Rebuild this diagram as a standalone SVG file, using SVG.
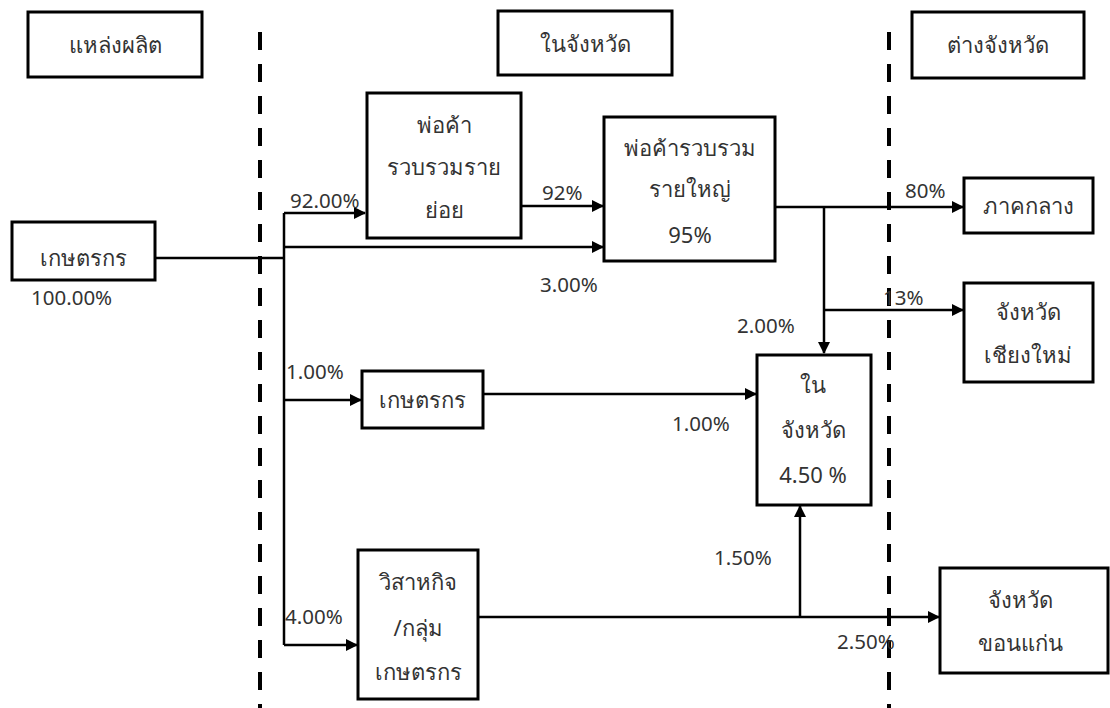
<svg xmlns="http://www.w3.org/2000/svg" width="1110" height="708" viewBox="0 0 1110 708">
<defs>
<marker id="ah" markerWidth="12" markerHeight="12" refX="11" refY="6" orient="auto" markerUnits="userSpaceOnUse">
<path d="M0,0 L12,6 L0,12 Z" fill="#000"/>
</marker>
<style>
.box{fill:#fff;stroke:#000;stroke-width:3}
.t{font-family:"Noto Sans","DejaVu Sans",sans-serif;font-size:22px;fill:#333;text-anchor:middle}
.n{font-family:"Noto Sans","DejaVu Sans",sans-serif;font-size:22px;fill:#333;text-anchor:middle}
.l{font-family:"Noto Sans","DejaVu Sans",sans-serif;font-size:20.5px;fill:#333}
.c{fill:none;stroke:#000;stroke-width:2.5}
.a{fill:none;stroke:#000;stroke-width:2.5;marker-end:url(#ah)}
.d{stroke:#000;stroke-width:4;stroke-dasharray:18 14}
</style>
</defs>
<rect width="1110" height="708" fill="#fff"/>
<g id="dividers">
<line class="d" x1="260" y1="32" x2="260" y2="708"/>
<line class="d" x1="889" y1="32" x2="889" y2="708"/>
</g>
<g id="connectors">
<polyline class="c" points="155,258 284,258"/>
<polyline class="c" points="284,213 284,645"/>
<polyline class="a" points="284,213 365,213"/>
<polyline class="a" points="284,247 603,247"/>
<polyline class="a" points="521,206 603,206"/>
<polyline class="a" points="284,400 361,400"/>
<polyline class="a" points="284,645 357,645"/>
<polyline class="a" points="483,394 756,394"/>
<polyline class="a" points="775,207 963,207"/>
<polyline class="a" points="824,207 824,353"/>
<polyline class="a" points="824,310 963,310"/>
<polyline class="c" points="478,617 800,617"/>
<polyline class="a" points="800,617 939,617"/>
<polyline class="a" points="800,617 800,506"/>
</g>
<g id="n-source"><rect class="box" x="28" y="12" width="174" height="65"/><text class="t" x="115" y="53">แหล่งผลิต</text></g>
<g id="n-inprov-head"><rect class="box" x="498" y="11" width="174" height="64"/><text class="t" x="585" y="52">ในจังหวัด</text></g>
<g id="n-outprov-head"><rect class="box" x="912" y="12" width="172" height="66"/><text class="t" x="998" y="53">ต่างจังหวัด</text></g>
<g id="n-farmer"><rect class="box" x="12" y="222" width="143" height="58"/><text class="t" x="83" y="266">เกษตรกร</text></g>
<g id="n-small"><rect class="box" x="367" y="93" width="154" height="145"/><text class="t" x="444" y="133">พ่อค้า</text><text class="t" x="444" y="175">รวบรวมราย</text><text class="t" x="444" y="218">ย่อย</text></g>
<g id="n-big"><rect class="box" x="604" y="117" width="171" height="144"/><text class="t" x="690" y="156">พ่อค้ารวบรวม</text><text class="t" x="690" y="197">รายใหญ่</text><text class="n" x="690" y="243">95%</text></g>
<g id="n-central"><rect class="box" x="964" y="178" width="129" height="55"/><text class="t" x="1028" y="214">ภาคกลาง</text></g>
<g id="n-cm"><rect class="box" x="964" y="283" width="129" height="99"/><text class="t" x="1028" y="320">จังหวัด</text><text class="t" x="1028" y="363">เชียงใหม่</text></g>
<g id="n-farmer2"><rect class="box" x="362" y="371" width="121" height="57"/><text class="t" x="422" y="408">เกษตรกร</text></g>
<g id="n-inprov"><rect class="box" x="757" y="355" width="114" height="150"/><text class="t" x="813" y="393">ใน</text><text class="t" x="813" y="438">จังหวัด</text><text class="n" x="813" y="483">4.50 %</text></g>
<g id="n-enterprise"><rect class="box" x="358" y="550" width="120" height="149"/><text class="t" x="418" y="590">วิสาหกิจ</text><text class="t" x="418" y="636">/กลุ่ม</text><text class="t" x="418" y="680">เกษตรกร</text></g>
<g id="n-kk"><rect class="box" x="940" y="568" width="168" height="105"/><text class="t" x="1020" y="608">จังหวัด</text><text class="t" x="1020" y="651">ขอนแก่น</text></g>
<g id="labels">
<text class="l" x="31" y="305">100.00%</text>
<text class="l" x="290" y="208">92.00%</text>
<text class="l" x="542" y="200">92%</text>
<text class="l" x="540" y="292">3.00%</text>
<text class="l" x="905" y="198">80%</text>
<text class="l" x="883" y="305">13%</text>
<text class="l" x="737" y="333">2.00%</text>
<text class="l" x="286" y="379">1.00%</text>
<text class="l" x="672" y="431">1.00%</text>
<text class="l" x="714" y="565">1.50%</text>
<text class="l" x="285" y="624">4.00%</text>
<text class="l" x="837" y="649">2.50%</text>
</g>
</svg>
